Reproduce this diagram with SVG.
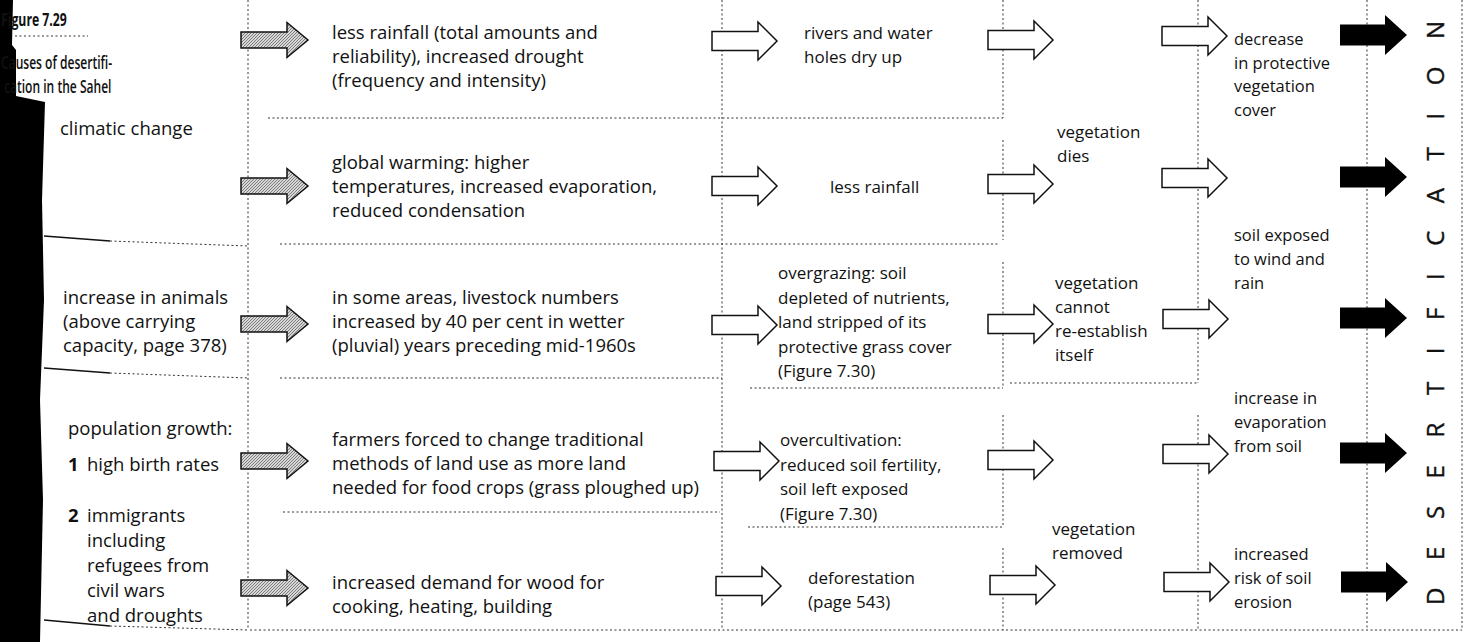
<svg xmlns="http://www.w3.org/2000/svg" width="1470" height="642" viewBox="0 0 1470 642">
<style>
text{font-family:"Open Sans","Noto Sans",sans-serif;font-size:17px;fill:#111}
.l{font-size:18.5px}
.c4{font-size:16.5px}
.ttl{fill:#111;font-size:18px;font-weight:600}
.b{font-weight:700}
.dot{fill:none;stroke:#333;stroke-width:1;stroke-dasharray:2 2.5}
.sol{fill:none;stroke:#111;stroke-width:1.6}
.hol{fill:#fff;stroke:#111;stroke-width:1.5;stroke-linejoin:miter}
.shd{fill:url(#hatch);stroke:#111;stroke-width:1.5}
.blk{fill:#000}
.big{font-size:24px;fill:#111;stroke:#111;stroke-width:0.4}
</style>
<defs>
<pattern id="hatch" width="3" height="3" patternUnits="userSpaceOnUse">
<rect width="3" height="3" fill="#d6d6d6"/>
<path d="M0,3 L3,0" stroke="#666" stroke-width="0.8"/>
</pattern>
<path id="sa" d="M0,-8 H46 V-17.5 L67,0 L46,17.5 V8 H0 Z"/>
<path id="ha" d="M0,-9.5 H46 V-19 L65,0 L46,19 V9.5 H0 Z"/>
<path id="ba" d="M0,-10.5 H45 V-20 L67,0 L45,20 V10.5 H0 Z"/>
</defs>
<rect width="1470" height="642" fill="#fff"/>

<!-- page gutter edge -->
<path d="M0,0 H13 L12,45 L16,50 L16,96 L45,102 L42,200 L44,300 L40,400 L43,500 L40,642 H0 Z" fill="#000"/>

<g id="connectors">
<path class="dot" d="M248,0 V630 M722,0 V630 M1003,0 V118 M1003,140 V240 M1003,262 V388 M1003,415 V527 M1003,548 V630 M1198,0 V383 M1198,415 V630 M1367,0 V630 M1462,0 V630"/>
<path class="dot" d="M268,118 H1003 M280,244 H1000 M110,241 L248,246 M110,373 L248,378 M280,378 H722 M750,388 H1003 M1010,383 H1198 M283,512 H720 M748,527 H1003 M110,626 L248,630 M250,630 H1462 M15,36 H88"/>
<path class="sol" d="M44,236 L110,241 M44,368 L110,373 M44,620 L110,626"/>
<use href="#sa" class="shd" x="241" y="40"/>
<use href="#sa" class="shd" x="241" y="186"/>
<use href="#sa" class="shd" x="241" y="324"/>
<use href="#sa" class="shd" x="241" y="461"/>
<use href="#sa" class="shd" x="241" y="588"/>
<use href="#ha" class="hol" x="712" y="41"/>
<use href="#ha" class="hol" x="712" y="186"/>
<use href="#ha" class="hol" x="712" y="325"/>
<use href="#ha" class="hol" x="714" y="461"/>
<use href="#ha" class="hol" x="716" y="586"/>
<use href="#ha" class="hol" x="988" y="40"/>
<use href="#ha" class="hol" x="988" y="184"/>
<use href="#ha" class="hol" x="988" y="324"/>
<use href="#ha" class="hol" x="988" y="460"/>
<use href="#ha" class="hol" x="990" y="585"/>
<use href="#ha" class="hol" x="1162" y="36"/>
<use href="#ha" class="hol" x="1162" y="178"/>
<use href="#ha" class="hol" x="1163" y="319"/>
<use href="#ha" class="hol" x="1163" y="454"/>
<use href="#ha" class="hol" x="1164" y="582"/>
<use href="#ba" class="blk" x="1340" y="35"/>
<use href="#ba" class="blk" x="1340" y="177"/>
<use href="#ba" class="blk" x="1340" y="318"/>
<use href="#ba" class="blk" x="1340" y="453"/>
<use href="#ba" class="blk" x="1341" y="582"/>
</g>

<g id="title">
<text class="ttl b" transform="translate(1,26) scale(0.68,1)" font-size="20">Figure 7.29</text>
<text class="ttl" transform="translate(1,69) scale(0.67,1)">Causes of desertifi-</text>
<text class="ttl" transform="translate(4,93) scale(0.67,1)">cation in the Sahel</text>
</g>

<g id="climatic-change"><text class="l" x="60" y="135">climatic change</text></g>
<g id="increase-animals"><text class="l" x="63" y="304">increase in animals<tspan x="63" dy="24">(above carrying</tspan><tspan x="63" dy="24">capacity, page 378)</tspan></text></g>
<g id="population-growth">
<text class="l" x="68" y="435">population growth:</text>
<text class="l" x="68" y="471"><tspan class="b">1</tspan><tspan x="87">high birth rates</tspan></text>
<text class="l" x="68" y="522"><tspan class="b">2</tspan><tspan x="87">immigrants</tspan><tspan x="87" dy="25">including</tspan><tspan x="87" dy="25">refugees from</tspan><tspan x="87" dy="25">civil wars</tspan><tspan x="87" dy="25">and droughts</tspan></text>
</g>

<g id="less-rainfall-drought"><text class="l" x="332" y="39">less rainfall (total amounts and<tspan x="332" dy="24">reliability), increased drought</tspan><tspan x="332" dy="24">(frequency and intensity)</tspan></text></g>
<g id="global-warming"><text class="l" x="332" y="169">global warming: higher<tspan x="332" dy="24">temperatures, increased evaporation,</tspan><tspan x="332" dy="24">reduced condensation</tspan></text></g>
<g id="livestock"><text class="l" x="332" y="304">in some areas, livestock numbers<tspan x="332" dy="24">increased by 40 per cent in wetter</tspan><tspan x="332" dy="24">(pluvial) years preceding mid-1960s</tspan></text></g>
<g id="farmers"><text class="l" x="332" y="446">farmers forced to change traditional<tspan x="332" dy="24">methods of land use as more land</tspan><tspan x="332" dy="24">needed for food crops (grass ploughed up)</tspan></text></g>
<g id="wood-demand"><text class="l" x="332" y="589">increased demand for wood for<tspan x="332" dy="24">cooking, heating, building</tspan></text></g>

<g id="rivers"><text x="804" y="39">rivers and water<tspan x="804" dy="24">holes dry up</tspan></text></g>
<g id="less-rainfall"><text x="830" y="193">less rainfall</text></g>
<g id="overgrazing"><text x="778" y="279">overgrazing: soil<tspan x="778" dy="24.5">depleted of nutrients,</tspan><tspan x="778" dy="24.5">land stripped of its</tspan><tspan x="778" dy="24.5">protective grass cover</tspan><tspan x="778" dy="24.5">(Figure 7.30)</tspan></text></g>
<g id="overcultivation"><text x="780" y="446">overcultivation:<tspan x="780" dy="24.5">reduced soil fertility,</tspan><tspan x="780" dy="24.5">soil left exposed</tspan><tspan x="780" dy="24.5">(Figure 7.30)</tspan></text></g>
<g id="deforestation"><text x="808" y="584">deforestation<tspan x="808" dy="24">(page 543)</tspan></text></g>

<g id="vegetation-dies"><text x="1057" y="138">vegetation<tspan x="1057" dy="24">dies</tspan></text></g>
<g id="vegetation-cannot"><text x="1055" y="289">vegetation<tspan x="1055" dy="24">cannot</tspan><tspan x="1055" dy="24">re-establish</tspan><tspan x="1055" dy="24">itself</tspan></text></g>
<g id="vegetation-removed"><text x="1052" y="535">vegetation<tspan x="1052" dy="24">removed</tspan></text></g>

<g id="decrease-cover"><text class="c4" x="1234" y="45">decrease<tspan x="1234" dy="23.5">in protective</tspan><tspan x="1234" dy="23.5">vegetation</tspan><tspan x="1234" dy="23.5">cover</tspan></text></g>
<g id="soil-exposed"><text class="c4" x="1234" y="241">soil exposed<tspan x="1234" dy="24">to wind and</tspan><tspan x="1234" dy="24">rain</tspan></text></g>
<g id="evaporation"><text class="c4" x="1234" y="404">increase in<tspan x="1234" dy="24">evaporation</tspan><tspan x="1234" dy="24">from soil</tspan></text></g>
<g id="erosion"><text class="c4" x="1234" y="560">increased<tspan x="1234" dy="24">risk of soil</tspan><tspan x="1234" dy="24">erosion</tspan></text></g>

<g id="desertification"><text class="big" transform="translate(1444,605) rotate(-90)" textLength="584" lengthAdjust="spacing">DESERTIFICATION</text></g>
</svg>
